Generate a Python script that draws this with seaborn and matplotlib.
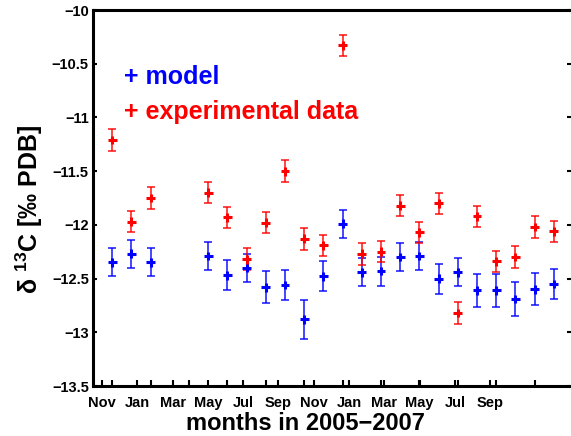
import numpy as np
import pandas as pd
import matplotlib
matplotlib.use("Agg")
import matplotlib.pyplot as plt
import seaborn as sns

# ---- data ----
months = ["2005-11", "2005-12", "2006-01", "2006-04", "2006-05", "2006-06",
          "2006-07", "2006-08", "2006-09", "2006-10", "2006-11", "2006-12",
          "2007-01", "2007-02", "2007-03", "2007-04", "2007-05", "2007-06",
          "2007-07", "2007-08", "2007-09", "2007-10"]
model = [-12.35, -12.27, -12.35, -12.29, -12.47, -12.40, -12.58, -12.56, -12.88,
         -12.48, -11.99, -12.44, -12.43, -12.30, -12.29, -12.50, -12.44, -12.61,
         -12.61, -12.69, -12.60, -12.55]
model_err = [0.13, 0.13, 0.13, 0.13, 0.14, 0.13, 0.15, 0.14, 0.18, 0.14, 0.13, 0.13,
             0.135, 0.13, 0.13, 0.14, 0.13, 0.15, 0.15, 0.155, 0.15, 0.14]
exper = [-11.21, -11.97, -11.75, -11.70, -11.93, -12.32, -11.98, -11.50, -12.13,
         -12.19, -10.33, -12.27, -12.25, -11.82, -12.07, -11.80, -12.82, -11.92,
         -12.34, -12.30, -12.02, -12.06]
exper_err = [0.10] * 22
bottom_labels = ["Nov", "Jan", "Mar", "May", "Jul", "Sep",
                 "Nov", "Jan", "Mar", "May", "Jul", "Sep"]
legend_labels = ["+ model", "+ experimental data"]
xlabel = "months in 2005\u22122007"

# month index relative to Nov 2005
per = pd.PeriodIndex(months, freq="M")
start = pd.Period("2005-11", freq="M")
xidx = np.array([(p - start).n for p in per])

df = pd.DataFrame({
    "x": np.concatenate([xidx, xidx]),
    "y": model + exper,
    "err": model_err + exper_err,
    "series": ["model"] * len(model) + ["exp"] * len(exper),
})

sns.set_style("white")
plt.rcParams["font.family"] = ["Liberation Sans", "DejaVu Sans"]
plt.rcParams["mathtext.fontset"] = "custom"
plt.rcParams["mathtext.bf"] = "Liberation Sans:bold"
plt.rcParams["mathtext.rm"] = "Liberation Sans"
plt.rcParams["text.color"] = "black"
plt.rcParams["axes.labelcolor"] = "black"
plt.rcParams["xtick.color"] = "black"
plt.rcParams["ytick.color"] = "black"

fig = plt.figure(figsize=(5.71, 4.36), dpi=100)
ax = fig.add_axes([93 / 571, 1 - 386 / 436, 1 - 93 / 571, (386 - 10) / 436])

colors = {"model": "#0000ff", "exp": "#ff0000"}
for s in ["model", "exp"]:
    d = df[df.series == s]
    ax.errorbar(d.x, d.y, yerr=d.err, fmt="none", ecolor=colors[s],
                elinewidth=1.2, capsize=3.2, capthick=1.2, alpha=0.85, zorder=2)
sns.scatterplot(data=df, x="x", y="y", hue="series", palette=colors,
                marker="+", s=40, linewidth=2.2, legend=False, ax=ax, zorder=3)

ax.set_xlim(-1, 23.9)
ax.set_ylim(-13.5, -10)
yt = np.arange(-13.5, -9.99, 0.5)
ax.set_yticks(yt)
ax.set_yticklabels([("%g" % v).replace("-", "\u2212") for v in yt],
                   fontsize=10.5, fontweight="bold")
ax.set_xticks(np.arange(0, 23, 2))
ax.tick_params(axis="x", which="both", top=True, bottom=False, labelbottom=False,
               direction="in", length=4, width=1.5)
ax.tick_params(axis="y", which="both", left=True, right=True, direction="in",
               length=3, width=1.5, pad=3)
ax.set_xlabel("")
ax.set_ylabel(r"δ $\mathbf{^{13}}$C [‰ PDB]", fontsize=18, fontweight="bold", labelpad=4)
ax.yaxis.set_label_coords(-0.100, 0.47)
for side in ["left", "bottom", "top"]:
    ax.spines[side].set_linewidth(2.2)
    ax.spines[side].set_color("black")
ax.spines["right"].set_visible(False)

# bottom month label axis
ax2 = ax.twiny()
ax2.xaxis.set_ticks_position("bottom")
ax2.set_xlim(-0.255, 13.29)
ax2.set_xticks(np.arange(len(bottom_labels)))
ax2.set_xticklabels(bottom_labels, fontsize=10.5, fontweight="bold")
ax2.tick_params(axis="x", bottom=True, top=False, direction="in", length=4,
                width=1.5, pad=7)
for sp in ax2.spines.values():
    sp.set_visible(False)

fig.text(305 / 571, 1 - 423 / 436, xlabel, fontsize=17, fontweight="bold",
         ha="center", va="center")

ax.text(0.065, 0.822, legend_labels[0], transform=ax.transAxes,
        color="#0000ff", fontsize=18, fontweight="bold", va="center", ha="left")
ax.text(0.065, 0.729, legend_labels[1], transform=ax.transAxes,
        color="#ff0000", fontsize=18, fontweight="bold", va="center", ha="left")

fig.savefig("out.png", dpi=100)
